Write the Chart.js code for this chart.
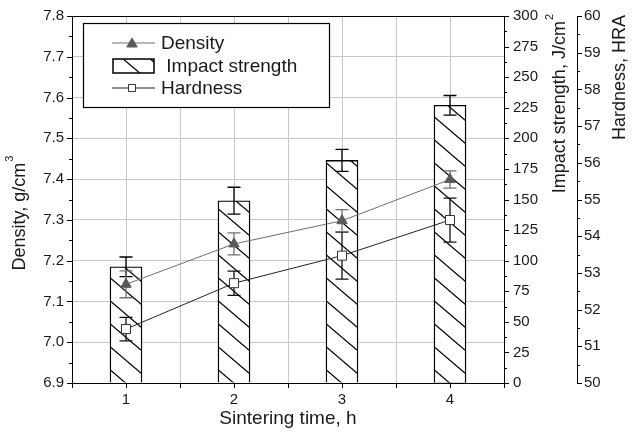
<!DOCTYPE html>
<html>
<head>
<meta charset="utf-8">
<script src="https://cdn.jsdelivr.net/npm/chart.js@4.4.1/dist/chart.umd.min.js"></script>
<style>
  html, body { margin: 0; padding: 0; background: #fff; }
  #wrap { width: 632px; height: 433px; }
</style>
</head>
<body>
<div id="wrap"><canvas id="myChart"></canvas></div>
<script>
// data
const sinteringTime = [1, 2, 3, 4];
const density = [7.142, 7.241, 7.298, 7.399];
const densityErr = [0.033, 0.027, 0.027, 0.021];
const impactStrength = [95, 149, 182, 227];
const impactErr = [8, 11, 9, 8];
const hardness = [51.47, 52.72, 53.47, 54.44];
const hardnessErr = [0.32, 0.33, 0.64, 0.6];

// tick values
const xTicks = [0.5, 1, 1.5, 2, 2.5, 3, 3.5, 4, 4.5];
const xLabels = ["", "1", "", "2", "", "3", "", "4", ""];
const densityTicks = [6.9, 7.0, 7.1, 7.2, 7.3, 7.4, 7.5, 7.6, 7.7, 7.8];
const impactTicks = [0, 25, 50, 75, 100, 125, 150, 175, 200, 225, 250, 275, 300];
const hardnessTicks = [50, 51, 52, 53, 54, 55, 56, 57, 58, 59, 60];

const FONT = "'Liberation Sans', Arial, Helvetica, sans-serif";
Chart.defaults.font.family = FONT;
Chart.defaults.color = "#1a1a1a";

function withMinor(arr) {
  const out = [];
  arr.forEach((v, i) => {
    out.push(v);
    if (i < arr.length - 1) out.push((v + arr[i + 1]) / 2);
  });
  return out;
}
function isMajor(arr, v) {
  return arr.some((m) => Math.abs(m - v) < 1e-6);
}

function makeHatch() {
  const w = 27, h = 23;
  const c = document.createElement("canvas");
  c.width = w; c.height = h;
  const g = c.getContext("2d");
  g.fillStyle = "#fff";
  g.fillRect(0, 0, w, h);
  g.strokeStyle = "#000";
  g.lineWidth = 1.3;
  [-w, 0, w].forEach((dx) => {
    g.beginPath();
    g.moveTo(dx - w, -h);
    g.lineTo(dx + 2 * w, 2 * h);
    g.stroke();
  });
  return g.createPattern(c, "repeat");
}
const hatch = makeHatch();

// error bars, drawn through the dataset's own scales
const errorBars = {
  id: "errorBars",
  draw(chart, meta, ds) {
    const ctx = chart.ctx;
    const xs = chart.scales[meta.xAxisID];
    const ys = chart.scales[meta.yAxisID];
    ctx.save();
    ctx.strokeStyle = ds.errColor;
    ctx.lineWidth = 1.3;
    ds.data.forEach((p, i) => {
      const x = xs.getPixelForValue(p.x);
      const y1 = ys.getPixelForValue(p.y + ds.errors[i]);
      const y2 = ys.getPixelForValue(p.y - ds.errors[i]);
      ctx.beginPath();
      ctx.moveTo(x, y1); ctx.lineTo(x, y2);
      ctx.moveTo(x - 6.5, y1); ctx.lineTo(x + 6.5, y1);
      ctx.moveTo(x - 6.5, y2); ctx.lineTo(x + 6.5, y2);
      ctx.stroke();
    });
    ctx.restore();
  },
  beforeDatasetDraw(chart, args) {
    const ds = chart.data.datasets[args.index];
    if (ds.errors && !ds.errOnTop) this.draw(chart, args.meta, ds);
  },
  afterDatasetDraw(chart, args) {
    const ds = chart.data.datasets[args.index];
    if (ds.errors && ds.errOnTop) this.draw(chart, args.meta, ds);
  },
};

// tick marks (long major, short minor), top frame line
const tickMarks = {
  id: "tickMarks",
  afterDraw(chart) {
    const ctx = chart.ctx;
    const area = chart.chartArea;
    ctx.save();
    ctx.strokeStyle = "#000";
    ctx.lineWidth = 1;
    ctx.beginPath();
    ctx.moveTo(area.left, area.top + 0.5);
    ctx.lineTo(area.right, area.top + 0.5);
    ctx.stroke();
    const sets = { y: densityTicks, yImpact: impactTicks, yHard: hardnessTicks, x: xTicks };
    Object.keys(sets).forEach((id) => {
      const s = chart.scales[id];
      s.ticks.forEach((t) => {
        const len = isMajor(sets[id], t.value) ? 5 : 3;
        const p = Math.round(s.getPixelForValue(t.value)) + 0.5;
        ctx.beginPath();
        if (id === "x") {
          ctx.moveTo(p, s.top); ctx.lineTo(p, s.top + len);
        } else if (s.position === "left") {
          ctx.moveTo(s.right, p); ctx.lineTo(s.right - len, p);
        } else {
          ctx.moveTo(s.left, p); ctx.lineTo(s.left + len, p);
        }
        ctx.stroke();
      });
    });
    ctx.restore();
  },
};

// vertical axis titles (all read bottom to top) with superscripts
// align: "center" -> y is the middle, "end" -> y is where the text ends (top)
function vTitle(ctx, x, y, main, sup, align) {
  ctx.save();
  ctx.translate(x, y);
  ctx.rotate(-Math.PI / 2);
  ctx.fillStyle = "#1a1a1a";
  ctx.textBaseline = "middle";
  ctx.font = "18px " + FONT;
  const w1 = ctx.measureText(main).width;
  ctx.font = "11px " + FONT;
  const w2 = sup ? ctx.measureText(sup).width + 1 : 0;
  const x0 = align === "end" ? -(w1 + w2) : -(w1 + w2) / 2;
  ctx.font = "18px " + FONT;
  ctx.fillText(main, x0, 0);
  if (sup) {
    ctx.font = "11px " + FONT;
    ctx.fillText(sup, x0 + w1 + 1, -10);
  }
  ctx.restore();
}
const axisTitles = {
  id: "axisTitles",
  afterDraw(chart) {
    const ctx = chart.ctx;
    const a = chart.chartArea;
    vTitle(ctx, chart.scales.y.left + 20, 213, "Density, g/cm", "3", "center");
    vTitle(ctx, chart.scales.yImpact.right - 17, a.top - 2, "Impact strength, J/cm", "2", "end");
    vTitle(ctx, chart.scales.yHard.right - 12, a.top - 1, "Hardness, HRA", "", "end");
  },
};

// legend box inside the plot
const boxLegend = {
  id: "boxLegend",
  afterDraw(chart) {
    const ctx = chart.ctx;
    const a = chart.chartArea;
    const bx = a.left + 11, by = a.top + 7, bw = 246, bh = 84;
    ctx.save();
    ctx.fillStyle = "#fff";
    ctx.fillRect(bx, by, bw, bh);
    ctx.strokeStyle = "#000";
    ctx.lineWidth = 1.2;
    ctx.strokeRect(bx + 0.5, by + 0.5, bw, bh);
    const sx = bx + 29, ex = bx + 72, mx = bx + 49, tx = bx + 78;
    const rows = [by + 20, by + 43, by + 65];
    const dsets = chart.data.datasets;
    ctx.font = "19px " + FONT;
    ctx.textBaseline = "middle";
    // Density
    ctx.strokeStyle = dsets[0].borderColor;
    ctx.lineWidth = 1;
    ctx.beginPath(); ctx.moveTo(sx, rows[0]); ctx.lineTo(ex, rows[0]); ctx.stroke();
    ctx.fillStyle = dsets[0].pointBackgroundColor;
    ctx.strokeStyle = dsets[0].pointBorderColor;
    Chart.helpers.drawPoint(ctx, { pointStyle: "triangle", radius: 6, borderWidth: 1, rotation: 0 }, mx, rows[0] + 1);
    ctx.fillStyle = "#1a1a1a";
    ctx.fillText(dsets[0].label, tx, rows[0] + 1);
    // Impact strength
    ctx.fillStyle = hatch;
    ctx.fillRect(sx + 1, rows[1] - 7, 41, 14);
    ctx.strokeStyle = "#000";
    ctx.lineWidth = 1.5;
    ctx.strokeRect(sx + 1, rows[1] - 7, 41, 14);
    ctx.fillStyle = "#1a1a1a";
    ctx.fillText(" " + dsets[1].label, tx, rows[1] + 1);
    // Hardness
    ctx.strokeStyle = dsets[2].borderColor;
    ctx.lineWidth = 1;
    ctx.beginPath(); ctx.moveTo(sx, rows[2]); ctx.lineTo(ex, rows[2]); ctx.stroke();
    ctx.fillStyle = "#fff";
    ctx.strokeStyle = dsets[2].pointBorderColor;
    Chart.helpers.drawPoint(ctx, { pointStyle: "rect", radius: 5, borderWidth: 1, rotation: 0 }, mx, rows[2]);
    ctx.fillStyle = "#1a1a1a";
    ctx.fillText(dsets[2].label, tx, rows[2] + 1);
    ctx.restore();
  },
};

const tickFont = { size: 15, family: FONT };
const gridGrey = "#c8c8c8";

new Chart(document.getElementById("myChart"), {
  type: "bar",
  data: {
    datasets: [
      {
        type: "line",
        label: "Density",
        data: sinteringTime.map((t, i) => ({ x: t, y: density[i] })),
        errors: densityErr,
        errColor: "#707070",
        yAxisID: "y",
        xAxisID: "x",
        borderColor: "#6e6e6e",
        borderWidth: 1,
        pointStyle: "triangle",
        pointRadius: 6,
        pointBackgroundColor: "#5a5a5a",
        pointBorderColor: "#5a5a5a",
        pointBorderWidth: 1,
        order: 1,
      },
      {
        type: "bar",
        label: "Impact strength",
        data: sinteringTime.map((t, i) => ({ x: t, y: impactStrength[i] })),
        errors: impactErr,
        errOnTop: true,
        errColor: "#000",
        yAxisID: "yImpact",
        xAxisID: "x",
        backgroundColor: hatch,
        borderColor: "#000",
        borderWidth: 1.4,
        barThickness: 32,
        order: 3,
      },
      {
        type: "line",
        label: "Hardness",
        data: sinteringTime.map((t, i) => ({ x: t, y: hardness[i] })),
        errors: hardnessErr,
        errColor: "#111",
        yAxisID: "yHard",
        xAxisID: "x",
        borderColor: "#222",
        borderWidth: 1,
        pointStyle: "rect",
        pointRadius: 6.4,
        pointBackgroundColor: "#fff",
        pointBorderColor: "#333",
        pointBorderWidth: 1,
        order: 2,
      },
    ],
  },
  options: {
    responsive: true,
    maintainAspectRatio: false,
    animation: false,
    layout: { padding: { top: 16, left: 0, right: 0, bottom: 0 } },
    plugins: { legend: { display: false }, tooltip: { enabled: false } },
    scales: {
      x: {
        type: "linear",
        position: "bottom",
        min: 0.5,
        max: 4.5,
        offset: false,
        afterBuildTicks: (s) => { s.ticks = xTicks.map((v) => ({ value: v })); },
        afterFit: (s) => { s.height = 50; },
        ticks: {
          autoSkip: false,
          maxRotation: 0,
          font: tickFont,
          padding: 3,
          callback: (v, i) => xLabels[i],
        },
        grid: { offset: false, color: gridGrey, tickColor: "rgba(0,0,0,0)", tickLength: 5 },
        border: { color: "#000", width: 1 },
        title: {
          display: true,
          text: "Sintering time, h",
          font: { size: 19, family: FONT },
          padding: { top: 0, bottom: 3 },
        },
      },
      y: {
        type: "linear",
        position: "left",
        min: 6.9,
        max: 7.8,
        afterBuildTicks: (s) => { s.ticks = withMinor(densityTicks).map((v) => ({ value: v })); },
        afterFit: (s) => { s.width = 72; },
        ticks: {
          autoSkip: false,
          font: tickFont,
          padding: 3,
          callback: (v) => (isMajor(densityTicks, v) ? v.toFixed(1) : ""),
        },
        grid: {
          color: (c) => (c.tick && isMajor(densityTicks, c.tick.value) ? gridGrey : "rgba(0,0,0,0)"),
          tickColor: "rgba(0,0,0,0)",
          tickLength: 5,
        },
        border: { color: "#000", width: 1 },
      },
      yImpact: {
        type: "linear",
        position: "right",
        min: 0,
        max: 300,
        afterBuildTicks: (s) => { s.ticks = withMinor(impactTicks).map((v) => ({ value: v })); },
        afterFit: (s) => { s.width = 73; },
        ticks: {
          autoSkip: false,
          font: tickFont,
          padding: 4,
          callback: (v) => (isMajor(impactTicks, v) ? String(v) : ""),
        },
        grid: { drawOnChartArea: false, tickColor: "rgba(0,0,0,0)", tickLength: 5 },
        border: { color: "#000", width: 1 },
      },
      yHard: {
        type: "linear",
        position: "right",
        min: 50,
        max: 60,
        afterBuildTicks: (s) => { s.ticks = withMinor(hardnessTicks).map((v) => ({ value: v })); },
        afterFit: (s) => { s.width = 55; },
        ticks: {
          autoSkip: false,
          font: tickFont,
          padding: 2,
          callback: (v) => (isMajor(hardnessTicks, v) ? String(v) : ""),
        },
        grid: { drawOnChartArea: false, tickColor: "rgba(0,0,0,0)", tickLength: 5 },
        border: { color: "#000", width: 1 },
      },
    },
  },
  plugins: [errorBars, tickMarks, axisTitles, boxLegend],
});
</script>
</body>
</html>
